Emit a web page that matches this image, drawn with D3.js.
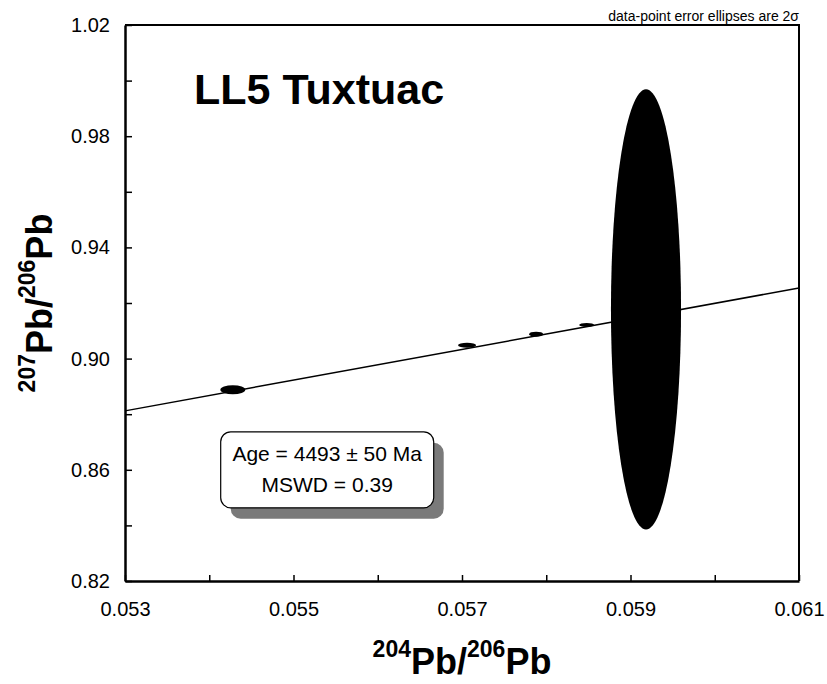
<!DOCTYPE html>
<html lang="en">
  <head>
    <meta charset="UTF-8" />
    <title>LL5 Tuxtuac isochron</title>
    <script src="https://d3js.org/d3.v7.min.js"></script>
    <style>
      body { margin: 0; background: #fff; }
      text { font-family: Arial, "Liberation Sans", sans-serif; }
    </style>
  </head>
  <body></body>
  <script>
    // 204Pb/206Pb vs 207Pb/206Pb, 2-sigma error ellipses
    var ptX = [0.05428, 0.05706, 0.05788, 0.05848, 0.059184];
    var ptY = [0.8888, 0.9048, 0.9088, 0.9121, 0.9177];
    var errX = [0.000148, 0.000107, 0.000083, 0.000089, 0.000416];
    var errY = [0.0016, 0.0009, 0.0009, 0.0007, 0.0792];

    // regression line end points
    var fitX = [0.053, 0.061];
    var fitY = [0.8812, 0.9254];

    var xTicks = [0.053, 0.054, 0.055, 0.056, 0.057, 0.058, 0.059, 0.06, 0.061];
    var xLabels = [0.053, 0.055, 0.057, 0.059, 0.061];
    var yTicks = [0.82, 0.84, 0.86, 0.88, 0.9, 0.92, 0.94, 0.96, 0.98, 1.0, 1.02];
    var yLabels = [0.82, 0.86, 0.9, 0.94, 0.98, 1.02];

    var title = "LL5 Tuxtuac";
    var note = "data-point error ellipses are 2\u03c3";
    var resultLines = ["Age = 4493 \u00b1 50 Ma", "MSWD = 0.39"];
    var resultAt = [0.0554, 0.86];

    var W = 827, H = 684;
    var margin = { top: 25, right: 28, bottom: 103, left: 125 };

    var svg = d3.select("body").append("svg")
      .attr("width", W)
      .attr("height", H);

    var x = d3.scaleLinear()
      .domain([0.053, 0.061])
      .range([margin.left, W - margin.right]);
    var y = d3.scaleLinear()
      .domain([0.82, 1.02])
      .range([H - margin.bottom, margin.top]);

    svg.append("clipPath").attr("id", "plot")
      .append("rect")
      .attr("x", x(0.053)).attr("y", y(1.02))
      .attr("width", x(0.061) - x(0.053))
      .attr("height", y(0.82) - y(1.02));

    // ellipses
    svg.append("g")
      .attr("clip-path", "url(#plot)")
      .selectAll("ellipse")
      .data(ptX)
      .join("ellipse")
      .attr("cx", (d, i) => x(d))
      .attr("cy", (d, i) => y(ptY[i]))
      .attr("rx", (d, i) => x(d + errX[i]) - x(d))
      .attr("ry", (d, i) => y(ptY[i] - errY[i]) - y(ptY[i]))
      .attr("fill", "#000");

    // isochron line
    svg.append("line")
      .attr("x1", x(fitX[0])).attr("y1", y(fitY[0]))
      .attr("x2", x(fitX[1])).attr("y2", y(fitY[1]))
      .attr("stroke", "#000")
      .attr("stroke-width", 1.5);

    // axes
    var isLabel = (list, d) => list.some(v => Math.abs(v - d) < 1e-9);
    var xAxis = d3.axisBottom(x)
      .tickValues(xTicks)
      .tickSizeInner(-6)
      .tickSizeOuter(0)
      .tickPadding(21)
      .tickFormat(d => isLabel(xLabels, d) ? d3.format(".3f")(d) : "");
    var yAxis = d3.axisLeft(y)
      .tickValues(yTicks)
      .tickSizeInner(-7)
      .tickSizeOuter(0)
      .tickPadding(15)
      .tickFormat(d => isLabel(yLabels, d) ? d3.format(".2f")(d) : "");

    var gx = svg.append("g")
      .attr("transform", `translate(0,${y(0.82)})`)
      .call(xAxis);
    var gy = svg.append("g")
      .attr("transform", `translate(${x(0.053)},0)`)
      .call(yAxis);

    [gx, gy].forEach(g => {
      g.selectAll(".domain").attr("stroke-width", 2.5);
      g.selectAll(".tick line").attr("stroke-width", 1.5);
      g.selectAll(".tick text")
        .attr("font-size", 20)
        .attr("fill", "#000");
    });

    // top and right borders
    svg.append("path")
      .attr("d", `M${x(0.053)},${y(1.02)}H${x(0.061)}V${y(0.82)}`)
      .attr("fill", "none")
      .attr("stroke", "#000")
      .attr("stroke-width", 2);

    // title
    svg.append("text")
      .attr("x", x(0.05382))
      .attr("y", y(0.9915))
      .attr("font-size", 43)
      .attr("font-weight", "bold")
      .text(title);

    svg.append("text")
      .attr("x", x(0.061))
      .attr("y", 21)
      .attr("text-anchor", "end")
      .attr("font-size", 14)
      .text(note);

    // result box
    var bw = 213, bh = 76;
    var bx = x(resultAt[0]) - bw / 2, by = y(resultAt[1]) - bh / 2;
    svg.append("rect")
      .attr("x", bx + 10).attr("y", by + 11)
      .attr("width", bw).attr("height", bh)
      .attr("rx", 10)
      .attr("fill", "#7a7a7a");
    svg.append("rect")
      .attr("x", bx).attr("y", by)
      .attr("width", bw).attr("height", bh)
      .attr("rx", 10)
      .attr("fill", "#fff")
      .attr("stroke", "#000")
      .attr("stroke-width", 1.2);
    svg.append("g")
      .selectAll("text")
      .data(resultLines)
      .join("text")
      .attr("x", bx + bw / 2)
      .attr("y", (d, i) => by + 29 + i * 31)
      .attr("text-anchor", "middle")
      .attr("font-size", 21)
      .text(d => d);

    // axis titles with superscripts
    function isoLabel(sel, a, b) {
      sel.append("tspan").attr("font-size", 23).attr("dy", -17).text(a);
      sel.append("tspan").attr("font-size", 36).attr("dy", 17).text("Pb/");
      sel.append("tspan").attr("font-size", 23).attr("dy", -17).text(b);
      sel.append("tspan").attr("font-size", 36).attr("dy", 17).text("Pb");
    }

    svg.append("text")
      .attr("x", (x(0.053) + x(0.061)) / 2)
      .attr("y", 674)
      .attr("text-anchor", "middle")
      .attr("font-weight", "bold")
      .call(isoLabel, "204", "206");

    svg.append("text")
      .attr("transform", `translate(52,${(y(0.82) + y(1.02)) / 2}) rotate(-90)`)
      .attr("text-anchor", "middle")
      .attr("font-weight", "bold")
      .call(isoLabel, "207", "206");
  </script>
</html>
